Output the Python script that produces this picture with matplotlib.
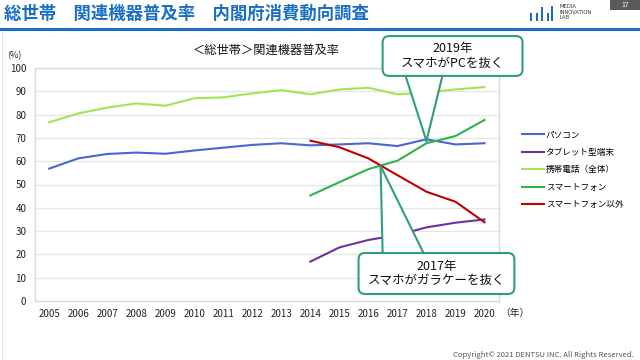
import matplotlib.pyplot as plt
from matplotlib.patches import FancyBboxPatch, Polygon, Rectangle
from matplotlib.lines import Line2D

plt.rcParams['font.family'] = ['Noto Sans CJK JP', 'DejaVu Sans']

years_all = list(range(2005, 2021))
years_new = list(range(2014, 2021))

pc = [56.8, 61.2, 63.1, 63.7, 63.2, 64.6, 65.8, 67.0, 67.7, 66.8, 67.2, 67.7, 66.5, 69.4, 67.2, 67.7]
mobile = [76.7, 80.5, 83.0, 84.8, 83.8, 87.0, 87.4, 89.1, 90.5, 88.7, 90.8, 91.5, 88.7, 89.5, 90.8, 91.8]
tablet = [16.9, 23.0, 26.2, 28.3, 31.6, 33.6, 35.0]
smartphone = [45.3, 51.0, 56.6, 60.2, 67.7, 70.8, 77.7]
feature = [68.8, 66.0, 61.2, 54.0, 46.9, 42.6, 33.8]

labels = ['パソコン', 'タブレット型端末', '携帯電話（全体）', 'スマートフォン', 'スマートフォン以外']
colors = ['#4866D4', '#7030A0', '#A0E650', '#2DB34A', '#C00000']

blue = '#1A6FC4'
teal = '#2E9E7E'

fig = plt.figure(figsize=(6.4, 3.6), dpi=100)
ax = fig.add_axes([34.7 / 640, 1 - 301 / 360, (499 - 34.7) / 640, (301 - 68) / 360])

lines = []
lines += ax.plot(years_all, pc, color=colors[0], lw=1.5, label=labels[0])
lines += ax.plot(years_new, tablet, color=colors[1], lw=1.5, label=labels[1])
lines += ax.plot(years_all, mobile, color=colors[2], lw=1.5, label=labels[2])
lines += ax.plot(years_new, smartphone, color=colors[3], lw=1.5, label=labels[3])
lines += ax.plot(years_new, feature, color=colors[4], lw=1.5, label=labels[4])

ax.set_xlim(2004.5, 2020.5)
ax.set_ylim(0, 100)
ax.set_xticks(years_all)
ax.set_yticks(range(0, 101, 10))
ax.tick_params(length=0, labelsize=7, colors='#222222')
ax.tick_params(axis='y', pad=6)
ax.tick_params(axis='x', pad=6)
ax.grid(axis='y', color='#E6E6E6', lw=1)
ax.set_axisbelow(True)
for s in ax.spines.values():
    s.set_color('#D9D9D9')
    s.set_linewidth(1)

fig.text(266 / 640, 1 - 50 / 360, '＜総世帯＞関連機器普及率', ha='center', va='center', fontsize=8.8, color='#111111')
fig.text(14 / 640, 1 - 56 / 360, '(%)', ha='center', va='center', fontsize=6.5, color='#222222')
fig.text(515 / 640, 1 - 313 / 360, '（年）', ha='center', va='center', fontsize=7, color='#222222')

fig.legend(handles=lines, labels=labels, loc='upper left', bbox_to_anchor=(522 / 640, 1 - 130.5 / 360),
           frameon=False, fontsize=6.2, handlelength=2.6, handletextpad=0.15, labelspacing=0.98,
           borderpad=0, borderaxespad=0)


def callout(x0, x1, y0, y1, b0, b1, by, tip, text):
    box = FancyBboxPatch((x0, y0), x1 - x0, y1 - y0, boxstyle='round,pad=0,rounding_size=0.22',
                         mutation_aspect=12.5, facecolor='white', edgecolor=teal, lw=1.5,
                         clip_on=False, zorder=5)
    ax.add_patch(box)
    inner = by + (0.6 if by < tip[1] else -0.6)
    ax.add_patch(Polygon([(b0, inner), (b1, inner), tip], closed=True, facecolor='white',
                         edgecolor='none', clip_on=False, zorder=6))
    for bx in (b0, b1):
        ax.add_line(Line2D([bx, tip[0]], [by, tip[1]], color=teal, lw=1.5, clip_on=False, zorder=7))
    ax.text((x0 + x1) / 2, (y0 + y1) / 2, text, ha='center', va='center', fontsize=9,
            linespacing=1.15, color='#111111', zorder=8, clip_on=False)


callout(2016.49, 2021.31, 96.6, 113.7, 2017.28, 2018.55, 96.6, (2018.0, 68.7), '2019年\nスマホがPCを抜く')
callout(2015.66, 2021.03, 3.0, 20.6, 2016.49, 2017.9, 20.6, (2016.42, 57.9), '2017年\nスマホがガラケーを抜く')

# header
fig.text(4 / 640, 1 - 14 / 360, '総世帯　関連機器普及率　内閣府消費動向調査', ha='left', va='center',
         fontsize=12.5, fontweight='bold', color=blue)
fig.add_artist(Line2D([0, 1], [1 - 29 / 360, 1 - 29 / 360], color=blue, lw=2.2))
fig.add_artist(Line2D([1.5 / 640, 1.5 / 640], [0, 1 - 32 / 360], color='#E0E0E0', lw=0.8))

for bx, bh in [(530, 8), (535.5, 8), (541, 14), (546.5, 8), (551, 15)]:
    fig.add_artist(Rectangle((bx / 640, 1 - 21 / 360), 2.2 / 640, bh / 360, facecolor=blue, edgecolor='none'))
fig.text(560 / 640, 1 - 12 / 360, 'MEDIA\nINNOVATION\nLAB', ha='left', va='center', fontsize=3.8,
         linespacing=1.2, color='#333333', family='DejaVu Sans')
fig.add_artist(Rectangle((610 / 640, 1 - 10 / 360), 30 / 640, 10 / 360, facecolor='#5A5A5A', edgecolor='none'))
fig.text(625 / 640, 1 - 5 / 360, '17', ha='center', va='center', fontsize=5, color='white')

fig.text(634 / 640, 1 - 355 / 360, 'Copyright© 2021 DENTSU INC. All Rights Reserved.', ha='right', va='center',
         fontsize=5.5, color='#555555')

fig.savefig('out.png', dpi=100)
